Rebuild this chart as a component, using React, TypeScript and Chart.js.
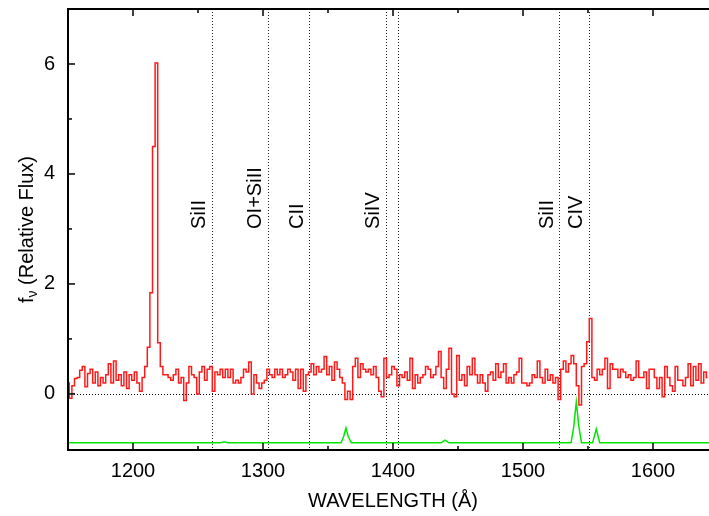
import React, { useEffect, useRef } from 'react';
import { Chart, registerables } from 'chart.js';
Chart.register(...registerables);

// Wavelength grid of the observed spectrum (Å)
const WAVE_START = 1150;
const WAVE_STEP = 2;

// Relative flux per bin, starting at 1150 Å, 2 Å bins
const fluxValues = [
  0.2, -0.08, 0.15, 0.28, 0.3, 0.43, 0.5, 0.13, 0.37, 0.45, // 1150
  0.2, 0.4, 0.15, 0.3, 0.2, 0.35, 0.55, 0.2, 0.6, 0.25, // 1170
  0.35, 0.15, 0.4, 0.1, 0.35, 0.25, 0.4, 0.2, 0.05, 0.3, // 1190
  0.5, 0.85, 1.84, 4.5, 6.02, 0.93, 0.5, 0.35, 0.35, 0.3, // 1210
  0.25, 0.35, 0.45, 0.2, 0.3, -0.12, 0.2, 0.5, 0.35, 0.3, // 1230
  0.0, 0.4, 0.5, 0.25, 0.45, 0.5, 0.05, 0.4, 0.35, 0.45, // 1250
  0.3, 0.45, 0.3, 0.45, 0.2, 0.25, 0.2, 0.3, 0.45, 0.4, // 1270
  0.58, 0.0, 0.35, 0.2, 0.1, 0.2, 0.25, 0.45, 0.35, 0.3, // 1290
  0.45, 0.35, 0.45, 0.3, 0.35, 0.45, 0.4, 0.25, 0.45, 0.1, // 1310
  0.45, 0.05, 0.35, 0.4, 0.55, 0.35, 0.5, 0.4, 0.45, 0.68, // 1330
  0.35, 0.5, 0.25, 0.58, 0.45, 0.3, 0.2, -0.1, 0.05, -0.1, // 1350
  0.5, 0.65, 0.3, 0.55, 0.45, 0.4, 0.45, 0.35, 0.5, 0.3, // 1370
  0.05, -0.05, 0.65, 0.3, 0.35, 0.5, 0.45, 0.15, 0.35, 0.3, // 1390
  0.4, 0.25, 0.65, 0.1, 0.35, 0.2, 0.3, 0.35, 0.5, 0.45, // 1410
  0.3, 0.35, 0.5, 0.77, 0.3, 0.1, 0.45, 0.83, 0.0, -0.05, // 1430
  0.7, 0.25, 0.35, 0.15, 0.5, 0.35, 0.65, 0.35, 0.2, 0.35, // 1450
  0.2, 0.05, 0.35, 0.4, 0.25, 0.55, 0.3, 0.4, 0.55, 0.2, // 1470
  0.3, 0.2, 0.35, 0.4, 0.65, 0.2, 0.2, 0.15, 0.2, 0.35, // 1490
  0.3, 0.6, 0.3, 0.2, 0.45, 0.25, 0.35, 0.2, 0.3, -0.1, // 1510
  0.45, 0.6, 0.4, 0.55, 0.7, 0.55, 0.15, -0.2, 0.5, 0.55, // 1530
  0.95, 1.37, 0.3, 0.25, 0.45, 0.35, 0.45, 0.65, 0.1, 0.55, // 1550
  0.45, 0.45, 0.3, 0.45, 0.4, 0.3, 0.35, 0.25, 0.3, 0.6, // 1570
  0.3, 0.3, 0.4, 0.1, 0.45, 0.45, 0.3, 0.1, 0.3, -0.05, // 1590
  0.5, 0.3, 0.15, 0.05, 0.5, 0.25, 0.25, 0.15, 0.3, 0.55, // 1610
  0.15, 0.5, 0.25, 0.55, 0.2, 0.4, 0.3, // 1630
];

// Lower (green) spectrum, offset below zero
const skyWave = [1150, 1267, 1270, 1273, 1360, 1362, 1363.8, 1365.6, 1368, 1437, 1440, 1443, 1537, 1539, 1541, 1543, 1545, 1553.5, 1556.4, 1559, 1650];
const skyFlux = [-0.89, -0.89, -0.87, -0.89, -0.89, -0.78, -0.62, -0.78, -0.89, -0.89, -0.84, -0.89, -0.89, -0.6, -0.15, -0.6, -0.89, -0.89, -0.64, -0.89, -0.89];

// Identified lines
const lineWaves = [1260.5, 1303.5, 1335.5, 1394.5, 1403.5, 1528, 1550.5];
const lineLabels = ['SiII', 'OI+SiII', 'CII', 'SiIV', '', 'SiII', 'CIV'];
const LABEL_Y = 3.0;

const xMajorTicks = [1200, 1300, 1400, 1500, 1600];
const xMinorTicks = [1250, 1350, 1450, 1550, 1650];
const yMajorTicks = [0, 2, 4, 6];
const yMinorTicks = [1, 3, 5];

const X_MIN = 1150;
const X_MAX = 1650;
const Y_MIN = -1.02;
const Y_MAX = 7.0;

const FONT = '"Liberation Sans", Arial, Helvetica, sans-serif';
const CANVAS_W = 740;
const CANVAS_H = 516;

const decor = {
  id: 'decor',
  beforeDatasetsDraw(chart: any) {
    const { ctx, chartArea: a, scales } = chart;
    const xs = scales.x;
    const ys = scales.y;
    ctx.save();
    ctx.lineWidth = 1;
    ctx.strokeStyle = '#222';
    ctx.setLineDash([1, 2]);
    for (const w of lineWaves) {
      const x = Math.round(xs.getPixelForValue(w)) + 0.5;
      ctx.beginPath();
      ctx.moveTo(x, a.top);
      ctx.lineTo(x, a.bottom);
      ctx.stroke();
    }
    const y0 = Math.round(ys.getPixelForValue(0)) + 0.5;
    ctx.strokeStyle = '#000';
    ctx.beginPath();
    ctx.moveTo(a.left, y0);
    ctx.lineTo(a.right, y0);
    ctx.stroke();
    ctx.restore();
  },
  afterDatasetsDraw(chart: any) {
    const { ctx, chartArea: a, scales } = chart;
    const xs = scales.x;
    const ys = scales.y;
    ctx.save();
    // frame
    ctx.strokeStyle = '#000';
    ctx.lineWidth = 2;
    ctx.setLineDash([]);
    ctx.strokeRect(a.left, a.top, a.right - a.left, a.bottom - a.top);
    // ticks
    ctx.lineWidth = 1.5;
    const tick = (x1: number, y1: number, x2: number, y2: number) => {
      ctx.beginPath();
      ctx.moveTo(x1, y1);
      ctx.lineTo(x2, y2);
      ctx.stroke();
    };
    for (const v of xMajorTicks) {
      const x = xs.getPixelForValue(v);
      tick(x, a.bottom, x, a.bottom - 7);
      tick(x, a.top, x, a.top + 7);
    }
    for (const v of xMinorTicks) {
      const x = xs.getPixelForValue(v);
      tick(x, a.bottom, x, a.bottom - 4);
      tick(x, a.top, x, a.top + 4);
    }
    for (const v of yMajorTicks) {
      const y = ys.getPixelForValue(v);
      tick(a.left, y, a.left + 7, y);
      tick(a.right, y, a.right - 7, y);
    }
    for (const v of yMinorTicks) {
      const y = ys.getPixelForValue(v);
      tick(a.left, y, a.left + 4, y);
      tick(a.right, y, a.right - 4, y);
    }
    // tick labels
    ctx.fillStyle = '#000';
    ctx.font = `20px ${FONT}`;
    ctx.textAlign = 'center';
    ctx.textBaseline = 'middle';
    for (const v of xMajorTicks) {
      ctx.fillText(String(v), xs.getPixelForValue(v), a.bottom + 21);
    }
    ctx.textAlign = 'right';
    for (const v of yMajorTicks) {
      ctx.fillText(String(v), a.left - 13, ys.getPixelForValue(v));
    }
    // x title
    ctx.textAlign = 'center';
    ctx.fillText('WAVELENGTH (Å)', (a.left + a.right) / 2, a.bottom + 51);
    // y title with subscript nu
    const bigFont = `20px ${FONT}`;
    const smallFont = `14px ${FONT}`;
    ctx.font = bigFont;
    const wF = ctx.measureText('f').width;
    const rest = ' (Relative Flux)';
    const wRest = ctx.measureText(rest).width;
    ctx.font = smallFont;
    const wNu = ctx.measureText('ν').width;
    const total = wF + wNu + wRest;
    ctx.save();
    ctx.translate(33, (a.top + a.bottom) / 2);
    ctx.rotate(-Math.PI / 2);
    ctx.textAlign = 'left';
    ctx.textBaseline = 'alphabetic';
    let cx = -total / 2;
    ctx.font = bigFont;
    ctx.fillText('f', cx, 0);
    cx += wF;
    ctx.font = smallFont;
    ctx.fillText('ν', cx, 4);
    cx += wNu;
    ctx.font = bigFont;
    ctx.fillText(rest, cx, 0);
    ctx.restore();
    // line labels
    ctx.font = `20px ${FONT}`;
    for (let i = 0; i < lineWaves.length; i++) {
      const lab = lineLabels[i];
      if (!lab) continue;
      ctx.save();
      ctx.translate(xs.getPixelForValue(lineWaves[i]) - 6.5, ys.getPixelForValue(LABEL_Y));
      ctx.rotate(-Math.PI / 2);
      ctx.textAlign = 'left';
      ctx.textBaseline = 'alphabetic';
      ctx.fillText(lab, 0, 0);
      ctx.restore();
    }
    ctx.restore();
  },
};

export default function App() {
  const ref = useRef<HTMLCanvasElement | null>(null);
  useEffect(() => {
    if (!ref.current) return;
    const fluxPoints = fluxValues.map((v, i) => ({ x: WAVE_START + i * WAVE_STEP, y: v }));
    const skyPoints = skyWave.map((w, i) => ({ x: w, y: skyFlux[i] }));
    const chart = new Chart(ref.current, {
      type: 'line',
      data: {
        datasets: [
          {
            data: skyPoints,
            borderColor: '#00e600',
            borderWidth: 1.5,
            pointRadius: 0,
            fill: false,
            tension: 0,
          },
          {
            data: fluxPoints,
            borderColor: '#ff1a1a',
            borderWidth: 1.5,
            pointRadius: 0,
            fill: false,
            stepped: 'middle',
          },
        ],
      },
      options: {
        responsive: false,
        devicePixelRatio: 1,
        animation: false,
        events: [],
        layout: { padding: { left: 68, top: 9, right: CANVAS_W - 718, bottom: CANVAS_H - 450 } },
        plugins: { legend: { display: false }, tooltip: { enabled: false } },
        scales: {
          x: { type: 'linear', min: X_MIN, max: X_MAX, display: false },
          y: { type: 'linear', min: Y_MIN, max: Y_MAX, display: false },
        },
      } as any,
      plugins: [decor],
    });
    return () => chart.destroy();
  }, []);
  return (
    <div style={{ position: 'fixed', left: 0, top: 0, width: 709, height: 516, overflow: 'hidden', background: '#fff' }}>
      <canvas ref={ref} width={CANVAS_W} height={CANVAS_H} style={{ display: 'block', width: CANVAS_W, height: CANVAS_H }} />
    </div>
  );
}
